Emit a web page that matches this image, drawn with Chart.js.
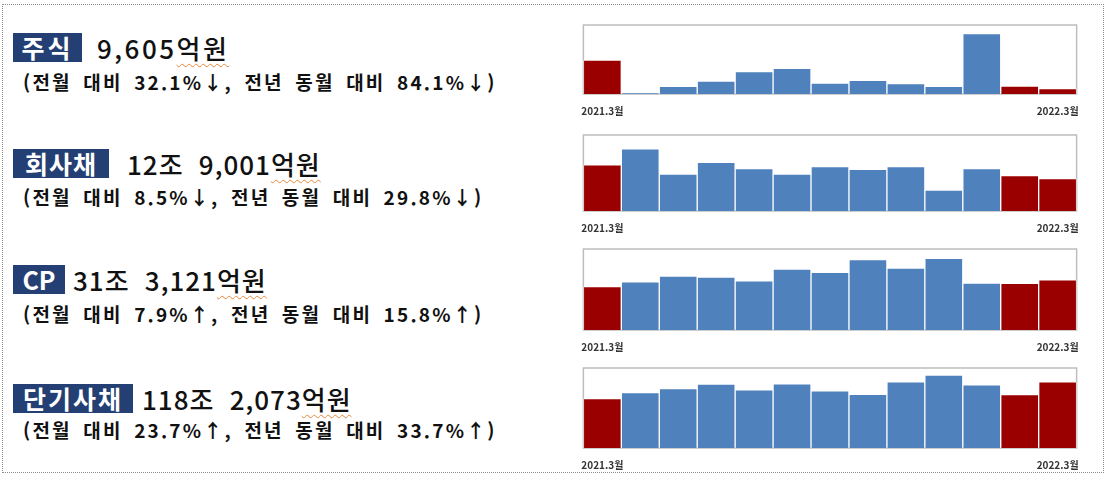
<!DOCTYPE html>
<html lang="ko">
<head>
<meta charset="utf-8">
<script src="https://cdn.jsdelivr.net/npm/chart.js@4"></script>
<style>
  html, body { margin: 0; padding: 0; background: #fff; }
  body { width: 1107px; height: 479px; position: relative; overflow: hidden;
         font-family: "Noto Sans CJK KR", "Noto Sans", sans-serif; color: #111; }
  .frame { position: absolute; left: 2px; top: 4px; width: 1100px; height: 467px;
           border: 1.5px dotted #8a8a8a; }
  .badge { position: absolute; left: 13px; height: 29px; line-height: 29px; text-align: center;
           background: #243f73; color: #fff; font-weight: 700; font-size: 25px; }
  .amount { position: absolute; height: 29px; line-height: 29px; font-size: 26px;
            font-weight: 500; letter-spacing: 1px; word-spacing: 7px; white-space: nowrap; }
  .amount .won { text-decoration: underline wavy #e8883a 1px; text-underline-offset: 4px; }
  .change { position: absolute; left: 23px; font-size: 19px; line-height: 20px;
            font-weight: 700; letter-spacing: 2.2px; word-spacing: 4px; white-space: nowrap; }
  .spark { position: absolute; left: 570px; width: 520px; }
</style>
</head>
<body>
<div class="frame"></div>

<div class="badge" style="top:33px;width:69px;letter-spacing:3px">주식</div>
<div class="amount" style="left:97px;top:33px;letter-spacing:2.5px">9,605<span class="won">억원</span></div>
<div class="change" style="top:72px">(전월 대비 32.1%↓, 전년 동월 대비 84.1%↓)</div>

<div class="badge" style="top:149px;width:96px;letter-spacing:1px">회사채</div>
<div class="amount" style="left:127px;top:149px">12조 9,001<span class="won">억원</span></div>
<div class="change" style="top:187px">(전월 대비 8.5%↓, 전년 동월 대비 29.8%↓)</div>

<div class="badge" style="top:265px;width:52px">CP</div>
<div class="amount" style="left:73px;top:265px">31조 3,121<span class="won">억원</span></div>
<div class="change" style="top:304px">(전월 대비 7.9%↑, 전년 동월 대비 15.8%↑)</div>

<div class="badge" style="top:384px;width:120px;letter-spacing:2px">단기사채</div>
<div class="amount" style="left:142px;top:384px">118조 2,073<span class="won">억원</span></div>
<div class="change" style="top:420px">(전월 대비 23.7%↑, 전년 동월 대비 33.7%↑)</div>

<div class="spark" style="top:17px;height:101px"><canvas id="stockChart"></canvas></div>
<div class="spark" style="top:127px;height:108px"><canvas id="bondChart"></canvas></div>
<div class="spark" style="top:241px;height:113px"><canvas id="cpChart"></canvas></div>
<div class="spark" style="top:360px;height:112px"><canvas id="stbChart"></canvas></div>

<script>
  // monthly issuance, 억원 (end points from the stated totals and % changes)
  const months = ['2021.3월', '2021.4월', '2021.5월', '2021.6월', '2021.7월', '2021.8월', '2021.9월',
                  '2021.10월', '2021.11월', '2021.12월', '2022.1월', '2022.2월', '2022.3월'];
  const stockValues = [60409, 1500, 13600, 23100, 39700, 45600, 19500, 24300, 18400, 13600, 107200, 14146, 9605];
  const bondValues = [183762, 247400, 147600, 194200, 168900, 147600, 176900, 166300, 176900, 83800, 168900, 140985, 129001];
  const cpValues = [270398, 300500, 336000, 329700, 306800, 379800, 359000, 438300, 386100, 446600, 292200, 290196, 313121];
  const stbValues = [884123, 990000, 1062000, 1140000, 1038000, 1146000, 1020000, 960000, 1182000, 1302000, 1128000, 955597, 1182073];
  // months drawn in red: same month last year, previous month, current month
  const highlighted = ['2021.3월', '2022.2월', '2022.3월'];

  const BLUE = '#4f81bd';
  const RED = '#9b0000';

  // light grey box around the plot area
  const plotBorder = {
    id: 'plotBorder',
    beforeDatasetsDraw(chart) {
      const { ctx, chartArea: a } = chart;
      ctx.save();
      ctx.strokeStyle = '#bdbdbd';
      ctx.lineWidth = 1.5;
      ctx.strokeRect(a.left, a.top, a.right - a.left, a.bottom - a.top);
      ctx.restore();
    },
  };

  function sparkBars(canvasId, values, yMax) {
    const canvas = document.getElementById(canvasId);
    new Chart(canvas.getContext('2d'), {
      type: 'bar',
      data: {
        labels: months,
        datasets: [{
          data: values,
          backgroundColor: months.map(m => highlighted.includes(m) ? RED : BLUE),
          borderColor: 'rgba(255,255,255,0.55)',
          borderWidth: { top: 1, left: 1, right: 1, bottom: 0 },
          borderSkipped: false,
          categoryPercentage: 1,
          barPercentage: 1,
        }],
      },
      options: {
        responsive: true,
        maintainAspectRatio: false,
        animation: false,
        layout: { padding: { top: 8, left: 12, right: 11, bottom: 0 } },
        plugins: { legend: { display: false }, tooltip: { enabled: false } },
        scales: {
          x: {
            grid: { display: false, drawTicks: false },
            border: { display: false },
            afterFit: (scale) => { scale.height = 24; },
            ticks: {
              autoSkip: false,
              maxRotation: 0,
              padding: 11,
              color: '#333',
              font: { family: '"Noto Sans CJK KR"', size: 10, weight: 'bold' },
              callback: (v, i) => (i === 0 || i === months.length - 1) ? months[i] : '',
            },
          },
          y: { display: false, min: 0, max: yMax },
        },
      },
      plugins: [plotBorder],
    });
  }

  sparkBars('stockChart', stockValues, 122500);
  sparkBars('bondChart', bondValues, 303000);
  sparkBars('cpChart', cpValues, 505000);
  sparkBars('stbChart', stbValues, 1428000);
</script>
</body>
</html>
